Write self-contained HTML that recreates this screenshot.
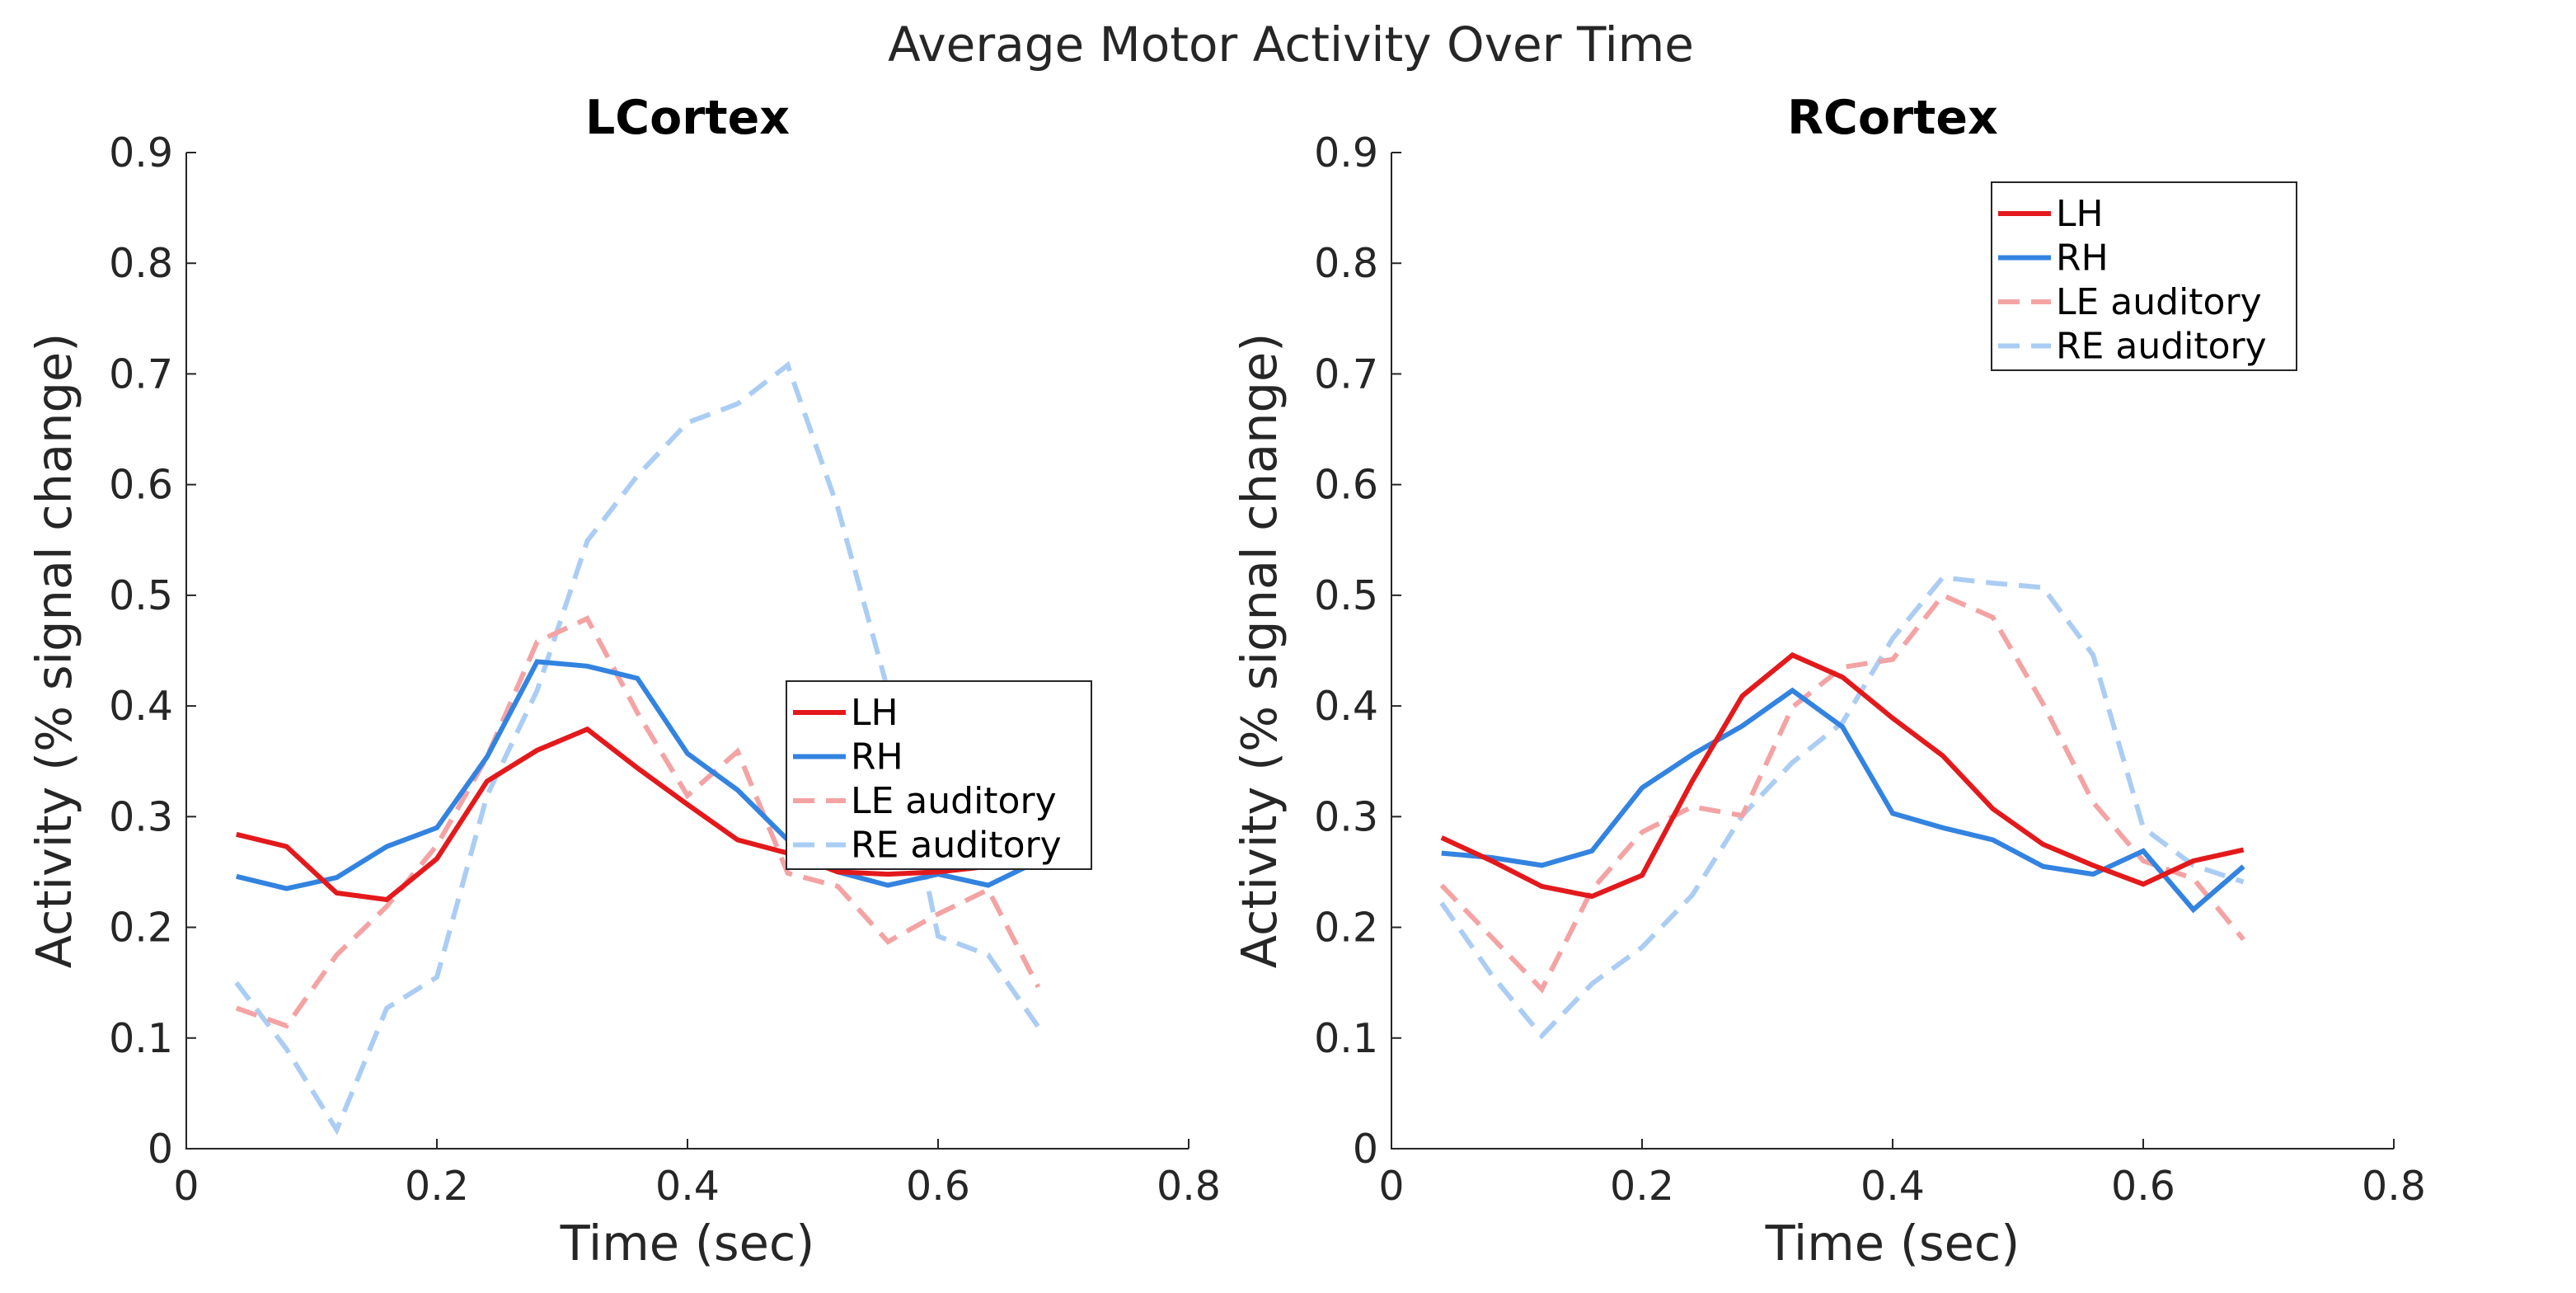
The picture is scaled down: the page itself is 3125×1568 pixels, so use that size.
<!DOCTYPE html>
<html><head><meta charset="utf-8"><style>
html,body{margin:0;padding:0;background:#fff;}
svg text{font-family:"DejaVu Sans","Liberation Sans",sans-serif;fill:#262626;}
</style></head><body>
<svg id="fig" width="3125" height="1563" xmlns="http://www.w3.org/2000/svg">
<text x="1566" y="74" font-size="58" text-anchor="middle">Average Motor Activity Over Time</text>
</svg>
<script>
const times = [0.04,0.08,0.12,0.16,0.20,0.24,0.28,0.32,0.36,0.40,0.44,0.48,0.52,0.56,0.60,0.64,0.68];
const xTicks = [0,0.2,0.4,0.6,0.8];
const yTicks = [0,0.1,0.2,0.3,0.4,0.5,0.6,0.7,0.8,0.9];
const seriesNames = ["LH","RH","LE auditory","RE auditory"];
const lcLH = [0.284,0.273,0.231,0.225,0.262,0.332,0.360,0.379,0.344,0.311,0.279,0.267,0.250,0.248,0.250,0.255,0.265];
const lcRH = [0.246,0.235,0.245,0.273,0.290,0.354,0.440,0.436,0.425,0.357,0.324,0.279,0.250,0.238,0.248,0.238,0.260];
const lcLE = [0.127,0.111,0.175,0.219,0.274,0.354,0.458,0.479,0.394,0.319,0.359,0.249,0.237,0.187,0.212,0.234,0.146];
const lcRE = [0.150,0.090,0.017,0.127,0.155,0.319,0.414,0.549,0.608,0.656,0.673,0.708,0.579,0.414,0.192,0.175,0.110];
const rcLH = [0.281,0.260,0.237,0.228,0.247,0.332,0.409,0.446,0.426,0.389,0.355,0.307,0.275,0.256,0.239,0.260,0.270];
const rcRH = [0.267,0.263,0.256,0.269,0.326,0.356,0.382,0.414,0.381,0.303,0.290,0.279,0.255,0.248,0.269,0.216,0.255];
const rcLE = [0.238,0.191,0.144,0.234,0.286,0.309,0.301,0.399,0.435,0.442,0.500,0.480,0.402,0.313,0.260,0.244,0.189];
const rcRE = [0.222,0.157,0.102,0.149,0.182,0.229,0.301,0.349,0.385,0.461,0.516,0.511,0.507,0.446,0.290,0.256,0.241];

const NS="http://www.w3.org/2000/svg";
const svg=document.getElementById('fig');
function mk(tag,attrs,parent){const e=document.createElementNS(NS,tag);for(const k in attrs)e.setAttribute(k,attrs[k]);(parent||svg).appendChild(e);return e;}
const styles=[
 {stroke:"#e3191c",dash:null},
 {stroke:"#3383e0",dash:null},
 {stroke:"#f4a3a4",dash:"26 14"},
 {stroke:"#abcdf4",dash:"26 14"}
];
function panel(title,x0,x1,data,legendPos,key){
 const y0=1393,y1=185;
 const sx=v=>x0+(v-0)/(0.8)*(x1-x0);
 const sy=v=>y0-(v/0.9)*(y0-y1);
 const g=mk('g',{});
 
 
 const t=mk('text',{x:(x0+x1)/2,y:162,'font-size':57,'font-weight':'bold','text-anchor':'middle'},g);
 
 
 t.textContent=title; t.style.fill='#000';
 const ax=mk('path',{d:`M${x0} ${y1} L${x0} ${y0} L${x1} ${y0}`,stroke:'#262626','stroke-width':2,fill:'none'},g);
 
 
 xTicks.forEach(v=>{
  const x=sx(v);
  mk('line',{x1:x,x2:x,y1:y0,y2:y0-12,stroke:'#262626','stroke-width':2},g);
  const tl=mk('text',{x:x,y:y0+62,'font-size':49,'text-anchor':'middle'},g);
  
  
  tl.textContent=String(v);
 });
 yTicks.forEach(v=>{
  const y=sy(v);
  mk('line',{x1:x0,x2:x0+12,y1:y,y2:y,stroke:'#262626','stroke-width':2},g);
  const tl=mk('text',{x:x0-16,y:y+17,'font-size':49,'text-anchor':'end'},g);
  
  
  tl.textContent=String(v);
 });
 const xl=mk('text',{x:(x0+x1)/2,y:1528,'font-size':59,'text-anchor':'middle'},g);
 
 
 xl.textContent='Time (sec)';
 const yl=mk('text',{x:0,y:0,'font-size':59,'text-anchor':'middle',transform:`translate(${x0-140},${(y0+y1)/2}) rotate(-90)`},g);
 
 
 yl.textContent='Activity (% signal change)';
 const order=[3,2,1,0];
 order.forEach(i=>{
  const pts=times.map((t,j)=>sx(t).toFixed(1)+','+sy(data[i][j]).toFixed(1)).join(' ');
  const pl=mk('polyline',{points:pts,fill:'none',stroke:styles[i].stroke,'stroke-width':6,'stroke-linejoin':'miter'},g);
  if(styles[i].dash)pl.setAttribute('stroke-dasharray',styles[i].dash);
  
  
 });
 const [lx,ly]=legendPos;
 const lg=mk('g',{},g);
 
 
 mk('rect',{x:lx,y:ly,width:370,height:228,fill:'#fff',stroke:'#262626','stroke-width':2},lg);
 seriesNames.forEach((n,i)=>{
  const yy=ly+38+i*53.5;
  const ln=mk('line',{x1:lx+8,x2:lx+72,y1:yy,y2:yy,stroke:styles[i].stroke,'stroke-width':6},lg);
  if(styles[i].dash)ln.setAttribute('stroke-dasharray',styles[i].dash);
  
  
  const tx=mk('text',{x:lx+78,y:yy+15,'font-size':44},lg);
  
  
  tx.textContent=n; tx.style.fill='#000';
 });
}
panel('LCortex',226,1442,[lcLH,lcRH,lcLE,lcRE],[954,826],'lcortex');
panel('RCortex',1688,2904,[rcLH,rcRH,rcLE,rcRE],[2416,221],'rcortex');
</script>
</body></html>
